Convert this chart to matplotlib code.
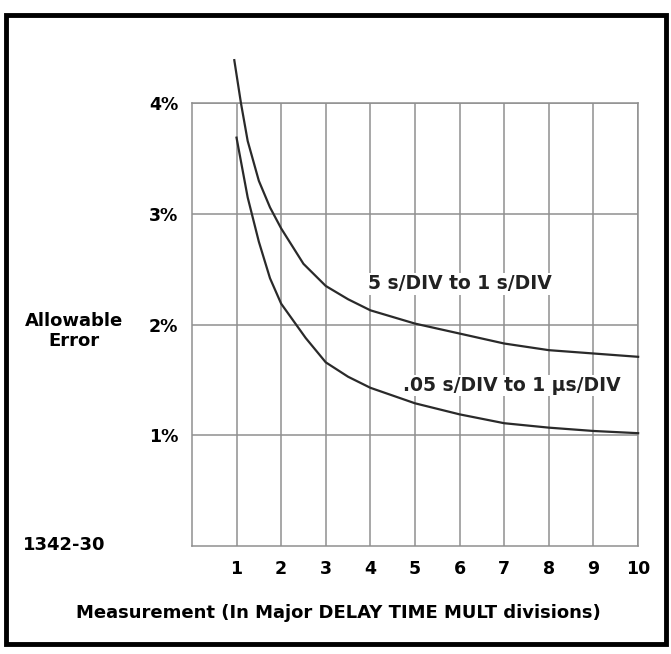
import matplotlib.pyplot as plt
from matplotlib.patches import Rectangle

# valeurs
x_lent = [0.95, 1.1, 1.25, 1.5, 1.75, 2, 2.5, 3, 3.5, 4, 5, 6, 7, 8, 9, 10]
y_lent = [4.39, 4.0, 3.66, 3.30, 3.06, 2.87, 2.55, 2.35, 2.23, 2.13, 2.01, 1.92, 1.83, 1.77, 1.74, 1.71]

x_rapide = [1.0, 1.25, 1.5, 1.75, 2, 2.55, 3, 3.5, 4, 5, 6, 7, 8, 9, 10]
y_rapide = [3.69, 3.15, 2.75, 2.42, 2.19, 1.88, 1.66, 1.53, 1.43, 1.29, 1.19, 1.11, 1.07, 1.04, 1.02]

xticks = list(range(1, 11))
yticks = [1, 2, 3, 4]
ylabels = ["1%", "2%", "3%", "4%"]

plt.rcParams['font.family'] = ['DejaVu Sans']

fig = plt.figure(figsize=(6.71, 6.54), dpi=100)
ax = fig.add_axes([0.286, 0.165, 0.665, 0.677])

ax.set_xlim(0, 10)
ax.set_ylim(0, 4)
ax.set_xticks(xticks)
ax.set_yticks(yticks)
ax.set_yticklabels(ylabels)
ax.tick_params(length=0, labelsize=12.5, pad=10)
for lab in ax.get_xticklabels() + ax.get_yticklabels():
    lab.set_fontweight('bold')

ax.grid(True, color='#8f8f8f', linewidth=1.1)
for sp in ax.spines.values():
    sp.set_color('#8f8f8f')
    sp.set_linewidth(1.1)

ax.plot(x_lent, y_lent, color='#2a2a2a', linewidth=1.6, clip_on=False, zorder=3)
ax.plot(x_rapide, y_rapide, color='#2a2a2a', linewidth=1.6, clip_on=False, zorder=3)

ax.text(6.0, 2.37, "5 s/DIV to 1 s/DIV", ha='center', va='center', fontsize=13.5,
        fontweight='bold', color='#222222', zorder=4,
        bbox=dict(facecolor='white', edgecolor='none', pad=1))
ax.text(7.16, 1.45, ".05 s/DIV to 1 \u00b5s/DIV", ha='center', va='center', fontsize=13.5,
        fontweight='bold', color='#222222', zorder=4,
        bbox=dict(facecolor='white', edgecolor='none', pad=1))

fig.text(74 / 671, 1 - 331 / 654, "Allowable\nError", ha='center', va='center',
         fontsize=13, fontweight='bold', linespacing=1.15)
fig.text(23 / 671, 1 - 545 / 654, "1342-30", ha='left', va='center',
         fontsize=13, fontweight='bold')
fig.text(338 / 671, 1 - 613 / 654, "Measurement (In Major DELAY TIME MULT divisions)",
         ha='center', va='center', fontsize=13, fontweight='bold')

# cadre noir autour de la figure
fig.patches.append(Rectangle((6 / 671, 10 / 654), 660 / 671, 629 / 654,
                             transform=fig.transFigure, fill=False,
                             edgecolor='black', linewidth=3.5))

fig.savefig("out.png", dpi=100, facecolor='white')
